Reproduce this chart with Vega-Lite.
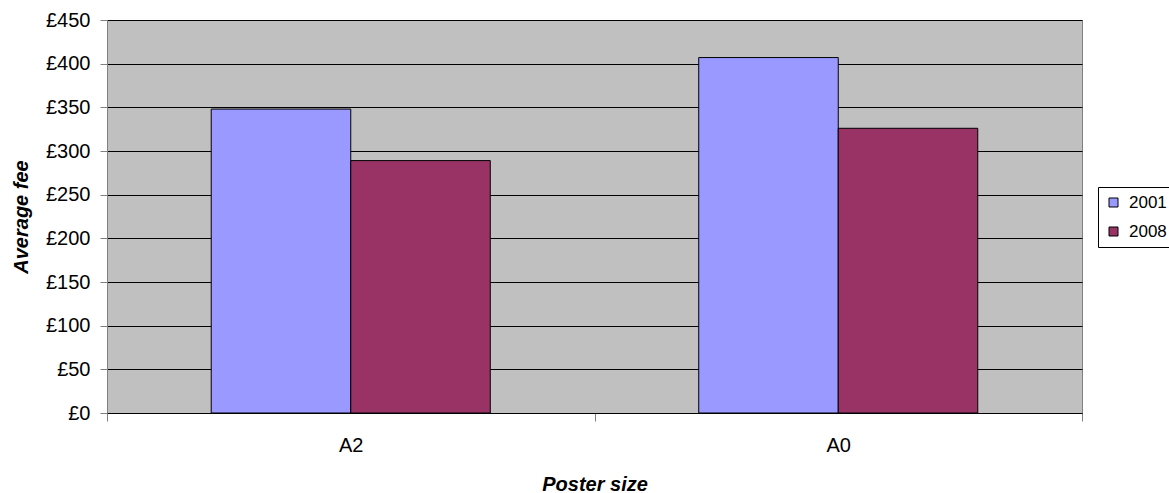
{
  "$schema": "https://vega.github.io/schema/vega-lite/v6.json",
  "width": 975,
  "height": 393,
  "autosize": "none",
  "padding": {"left": 107, "top": 20, "right": 87, "bottom": 80},
  "background": "white",
  "config": {
    "font": "Liberation Sans",
    "view": {"fill": "#C0C0C0", "stroke": "#808080", "strokeWidth": 1}
  },
  "data": {
    "values": [
      {"size": "A2", "year": "2001", "fee": 348},
      {"size": "A2", "year": "2008", "fee": 289},
      {"size": "A0", "year": "2001", "fee": 407},
      {"size": "A0", "year": "2008", "fee": 326}
    ]
  },
  "mark": {"type": "bar", "stroke": "black", "strokeWidth": 1},
  "encoding": {
    "x": {
      "field": "size",
      "type": "nominal",
      "sort": ["A2", "A0"],
      "scale": {"paddingInner": 0, "paddingOuter": 0},
      "axis": {
        "title": "Poster size",
        "titleFontSize": 20,
        "titleFontWeight": "bold",
        "titleFontStyle": "italic",
        "titleBaseline": "alphabetic",
        "titleY": 77,
        "labelAngle": 0,
        "labelFontSize": 20,
        "labelColor": "black",
        "labelPadding": 14,
        "tickBand": "extent",
        "tickSize": 8,
        "tickColor": "#808080",
        "domainColor": "black",
        "domainWidth": 1
      }
    },
    "xOffset": {
      "field": "year",
      "type": "nominal",
      "scale": {"paddingInner": 0, "paddingOuter": 0.747}
    },
    "y": {
      "field": "fee",
      "type": "quantitative",
      "scale": {"domain": [0, 450], "nice": false},
      "axis": {
        "title": "Average fee",
        "titleFontSize": 20,
        "titleFontWeight": "bold",
        "titleFontStyle": "italic",
        "titleBaseline": "alphabetic",
        "titleX": -80,
        "titleAngle": -90,
        "values": [0, 50, 100, 150, 200, 250, 300, 350, 400, 450],
        "labelExpr": "'£' + datum.value",
        "labelFontSize": 20,
        "labelColor": "black",
        "labelPadding": 10,
        "tickSize": 7,
        "tickColor": "#808080",
        "domainColor": "#808080",
        "grid": true,
        "gridColor": "black",
        "gridWidth": 1
      }
    },
    "fill": {
      "field": "year",
      "type": "nominal",
      "scale": {"domain": ["2001", "2008"], "range": ["#9999FF", "#993366"]},
      "legend": {
        "title": null,
        "orient": "none",
        "legendX": 991,
        "legendY": 167,
        "symbolType": "square",
        "symbolSize": 81,
        "symbolStrokeColor": "black",
        "symbolStrokeWidth": 1,
        "symbolOpacity": 1,
        "labelFontSize": 17,
        "labelColor": "black",
        "labelOffset": 7,
        "rowPadding": 11,
        "padding": 7,
        "strokeColor": "black",
        "fillColor": "white"
      }
    }
  }
}
